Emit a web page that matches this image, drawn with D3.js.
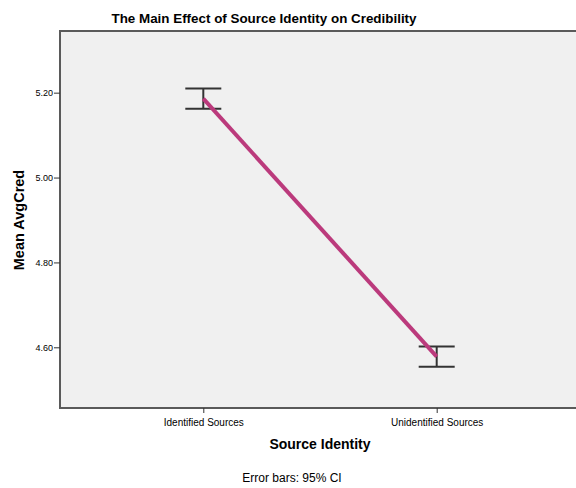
<html>
  <head>
    <style>
      body { margin: 0; background: #fff; }
      text { font-family: "Liberation Sans", Arial, sans-serif; fill: #000; }
    </style>
    <script src="https://cdnjs.cloudflare.com/ajax/libs/d3/7.8.5/d3.min.js"></script>
  </head>
  <body>
    <script>
      // Data
      var categories = ["Identified Sources", "Unidentified Sources"];
      var means = [5.186, 4.578];
      var ciLow = [5.162, 4.554];
      var ciHigh = [5.210, 4.602];
      var yTicks = [4.6, 4.8, 5.0, 5.2];

      var width = 576, height = 488;
      // plot area edges (note: "top" is reserved on window)
      var plotL = 60, plotR = 580, plotT = 31, plotB = 408;

      var svg = d3.select("body").append("svg")
        .attr("width", width)
        .attr("height", height);

      var x = d3.scalePoint()
        .domain(categories)
        .range([plotL, plotR])
        .padding(0.614);

      var y = d3.scaleLinear()
        .domain([4.457, 5.3453])
        .range([plotB, plotT]);

      // plot background
      svg.append("rect")
        .attr("x", plotL).attr("y", plotT)
        .attr("width", plotR - plotL).attr("height", plotB - plotT)
        .attr("fill", "#f0f0f0")
        .attr("stroke", "#5a5a5a")
        .attr("stroke-width", 2);

      // y axis
      var yAxis = svg.append("g")
        .attr("transform", "translate(" + plotL + ",0)")
        .call(d3.axisLeft(y).tickValues(yTicks).tickSize(6).tickFormat(d3.format(".2f")));
      yAxis.select(".domain").remove();
      yAxis.selectAll("line").attr("stroke", "#333");
      yAxis.selectAll("text").attr("font-size", 9).attr("fill", "#333").attr("dx", 2);

      // x axis
      var xAxis = svg.append("g")
        .attr("transform", "translate(0," + plotB + ")")
        .call(d3.axisBottom(x).tickSize(5));
      xAxis.select(".domain").remove();
      xAxis.selectAll("line").attr("stroke", "#333");
      xAxis.selectAll("text").attr("font-size", 10).attr("fill", "#333").attr("dy", "1em");

      // error bars
      var capW = 18;
      var eb = svg.append("g").selectAll("g")
        .data(categories)
        .enter().append("g");
      eb.append("line")
        .attr("x1", function(d) { return x(d); })
        .attr("x2", function(d) { return x(d); })
        .attr("y1", function(d, i) { return y(ciLow[i]); })
        .attr("y2", function(d, i) { return y(ciHigh[i]); });
      eb.append("line")
        .attr("x1", function(d) { return x(d) - capW; })
        .attr("x2", function(d) { return x(d) + capW; })
        .attr("y1", function(d, i) { return y(ciLow[i]); })
        .attr("y2", function(d, i) { return y(ciLow[i]); });
      eb.append("line")
        .attr("x1", function(d) { return x(d) - capW; })
        .attr("x2", function(d) { return x(d) + capW; })
        .attr("y1", function(d, i) { return y(ciHigh[i]); })
        .attr("y2", function(d, i) { return y(ciHigh[i]); });
      eb.selectAll("line").attr("stroke", "#333").attr("stroke-width", 2);

      // mean line
      var line = d3.line()
        .x(function(d, i) { return x(categories[i]); })
        .y(function(d) { return y(d); });
      svg.append("path")
        .datum(means)
        .attr("d", line)
        .attr("fill", "none")
        .attr("stroke", "#bb3a7c")
        .attr("stroke-width", 4);

      // titles
      svg.append("text")
        .attr("x", 264).attr("y", 23)
        .attr("text-anchor", "middle")
        .attr("font-size", 13.4).attr("font-weight", "bold")
        .text("The Main Effect of Source Identity on Credibility");

      svg.append("text")
        .attr("x", 320).attr("y", 449)
        .attr("text-anchor", "middle")
        .attr("font-size", 14).attr("font-weight", "bold")
        .text("Source Identity");

      svg.append("text")
        .attr("transform", "translate(24,220) rotate(-90)")
        .attr("text-anchor", "middle")
        .attr("font-size", 14.5).attr("font-weight", "bold")
        .text("Mean AvgCred");

      svg.append("text")
        .attr("x", 292).attr("y", 482)
        .attr("text-anchor", "middle")
        .attr("font-size", 12).attr("fill", "#222")
        .text("Error bars: 95% CI");
    </script>
  </body>
</html>
